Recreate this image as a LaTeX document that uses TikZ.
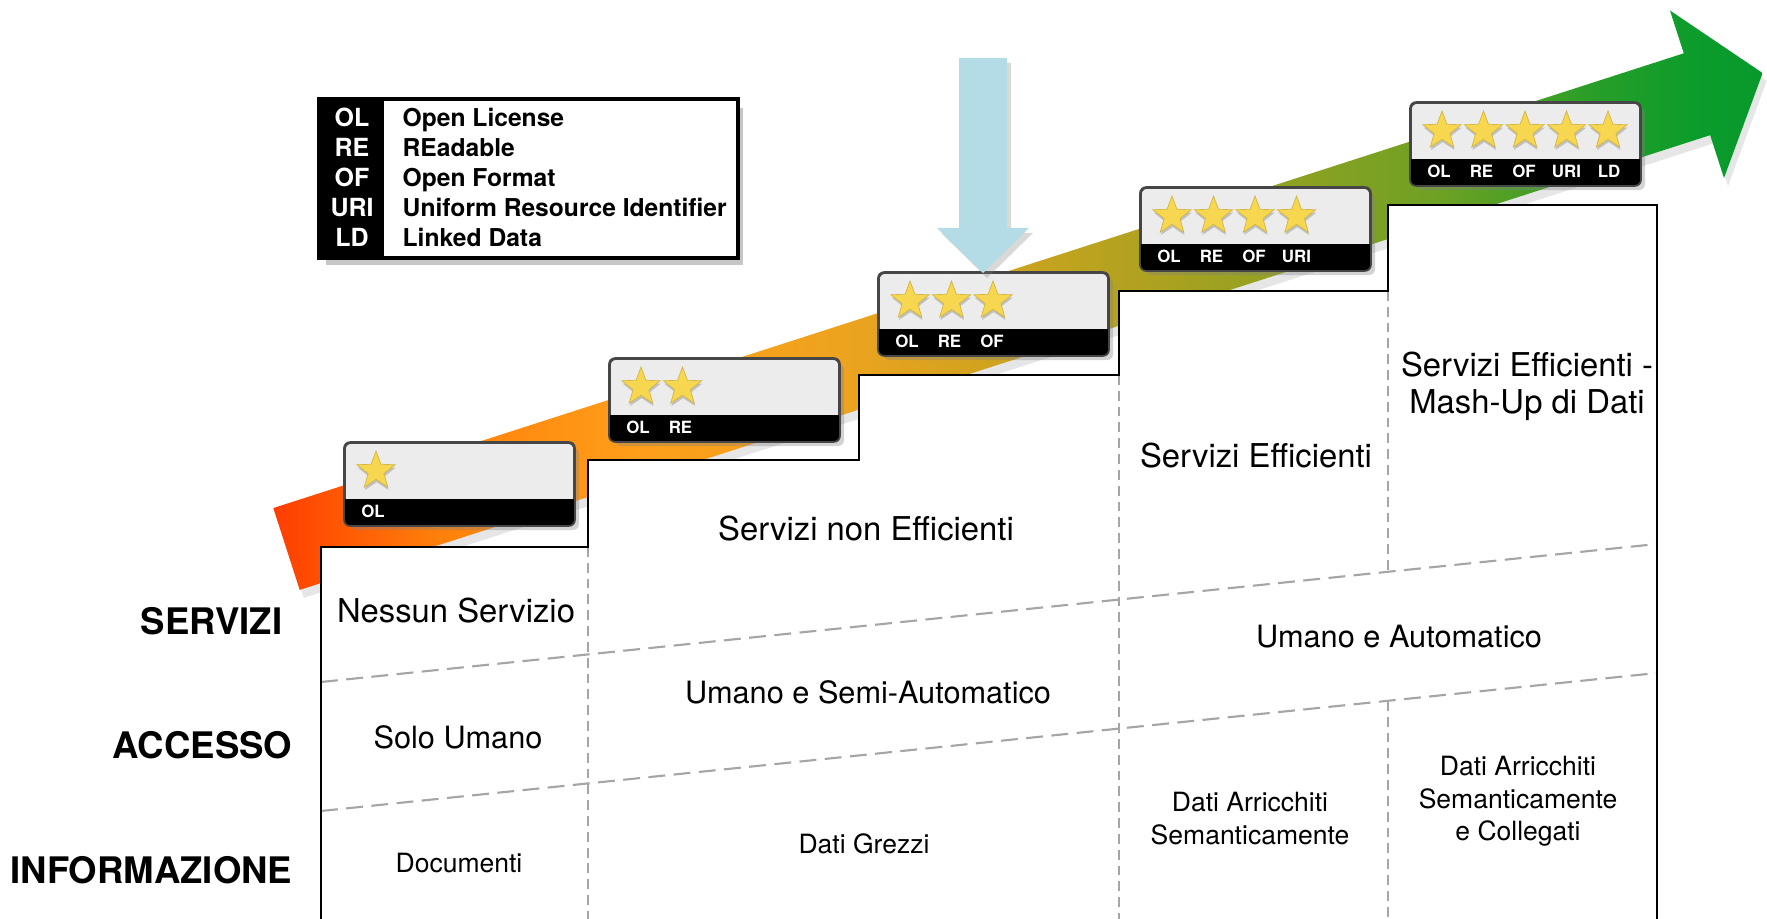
\documentclass[tikz,border=0pt]{standalone}
\usepackage{fontspec}
\setmainfont{TeX Gyre Heros}
\usetikzlibrary{shapes.geometric,shadows,calc}
\definecolor{badgegray}{RGB}{236,236,236}
\definecolor{badgeedge}{RGB}{70,70,70}
\definecolor{starfill}{RGB}{247,215,80}
\definecolor{bluearrow}{RGB}{180,220,230}
\definecolor{dashgray}{RGB}{165,165,165}
\pgfdeclarehorizontalshading{arrowshade}{100bp}{%
  rgb(0bp)=(1,0.24,0);
  rgb(25bp)=(1,0.24,0);
  rgb(30.5bp)=(1,0.50,0.04);
  rgb(37.3bp)=(1,0.62,0.10);
  rgb(44.1bp)=(0.93,0.64,0.12);
  rgb(50.9bp)=(0.77,0.64,0.12);
  rgb(57.6bp)=(0.60,0.63,0.13);
  rgb(64.4bp)=(0.42,0.63,0.14);
  rgb(69.5bp)=(0.15,0.62,0.16);
  rgb(72.9bp)=(0.04,0.61,0.17);
  rgb(75bp)=(0.03,0.60,0.17);
  rgb(100bp)=(0.03,0.60,0.17)}
\newcommand\starbadge[5]{%
  \node[badgebox] (#1) at ({#2+114.5},{#3+41}) {};
  \begin{scope}
    \clip[rounded corners=0.06cm] (#1.south west) rectangle (#1.north east);
    \fill[black] (#1.south west) rectangle ($(#1.south east)+(0,-27)$);
  \end{scope}
  \draw[badgeedge, line width=0.5pt, rounded corners=0.06cm] (#1.south west) rectangle (#1.north east);
  \foreach \k in {1,...,#4} \node[starshape] (#1s\k) at ({#2+31+41.5*(\k-1)},{#3+28}) {};
  \foreach \lab [count=\k] in {#5} \node[badgelabel] (#1l\k) at ({#2+28+42.5*(\k-1)},{#3+74.5}) {\lab};
}
\begin{document}
\begin{tikzpicture}[x=0.01cm,y=-0.01cm,
  badgebox/.style={rectangle, minimum width=2.29cm, minimum height=0.82cm, inner sep=0pt,
    rounded corners=0.06cm, fill=badgegray, draw=badgeedge, line width=0.5pt,
    drop shadow={opacity=0.35, shadow xshift=0.05cm, shadow yshift=-0.05cm}},
  starshape/.style={star, star points=5, star point ratio=2.4, minimum size=0.4cm, inner sep=0pt,
    fill=starfill, draw=starfill!85!black, line width=0.2pt,
    drop shadow={opacity=0.4, shadow xshift=0.2pt, shadow yshift=-0.8pt}},
  badgelabel/.style={text=white, font=\fontsize{4.8}{5.5}\selectfont\bfseries, inner sep=0pt, anchor=base},
  legendbox/.style={rectangle, minimum width=4.17cm, minimum height=1.57cm, inner sep=0pt,
    fill=white, draw=black, line width=0.8pt,
    drop shadow={opacity=0.45, shadow xshift=0.06cm, shadow yshift=-0.08cm}},
  legab/.style={text=white, font=\fontsize{7.1}{8}\selectfont\bfseries, inner sep=0pt, anchor=base},
  legtxt/.style={text=black, font=\fontsize{7.0}{8}\selectfont\bfseries, inner sep=0pt, anchor=base west},
  rowtitle/.style={font=\fontsize{10.4}{12}\selectfont\bfseries, inner sep=0pt, anchor=base east},
  bigtxt/.style={font=\fontsize{9.33}{11}\selectfont, inner sep=0pt, anchor=base},
  midtxt/.style={font=\fontsize{8.73}{10}\selectfont, inner sep=0pt, anchor=base},
  smalltxt/.style={font=\fontsize{7.54}{9}\selectfont, inner sep=0pt, anchor=base},
  slantdash/.style={dashgray, line width=0.6pt, dash pattern=on 4.8pt off 2.4pt},
  vdash/.style={dashgray, line width=0.4pt, dash pattern=on 2.8pt off 1.7pt},
  stair/.style={black, line width=0.7pt}
]
\useasboundingbox (0,0) rectangle (1767,919);

% ---- main gradient arrow
\begin{scope}[shift={(286.5,549)}, rotate=17.87]
  \shade[shading=arrowshade, drop shadow={opacity=0.2, shadow xshift=0.04cm, shadow yshift=-0.08cm}]
    (0,-43) -- (1482,-43) -- (1482,-88) -- (1551,0) -- (1482,88) -- (1482,43) -- (0,43) -- cycle;
\end{scope}

% ---- staircase box
\coordinate (s0) at (321,919);
\coordinate (s1) at (321,547);
\coordinate (s2) at (588,547);
\coordinate (s3) at (588,460);
\coordinate (s4) at (859,460);
\coordinate (s5) at (859,375);
\coordinate (s6) at (1119,375);
\coordinate (s7) at (1119,291);
\coordinate (s8) at (1388,291);
\coordinate (s9) at (1388,205);
\coordinate (s10) at (1657,205);
\coordinate (s11) at (1657,919);
\fill[white] (s0) -- (s1) -- (s2) -- (s3) -- (s4) -- (s5) -- (s6) -- (s7) -- (s8) -- (s9) -- (s10) -- (s11) -- cycle;

% dashed division lines
\coordinate (a1) at (321,682);
\coordinate (a2) at (1657,544);
\coordinate (b1) at (321,811);
\coordinate (b2) at (1657,673);
\draw[slantdash] (a1) -- (a2);
\draw[slantdash] (b1) -- (b2);
\coordinate (v1b) at (588,919);
\coordinate (v2b) at (1119,919);
\coordinate (v3m) at (1388,572);
\coordinate (v3n) at (1388,701);
\coordinate (v3b) at (1388,919);
\draw[vdash] (s2) -- (v1b);
\draw[vdash] (s6) -- (v2b);
\draw[vdash] (s8) -- (v3m);
\draw[vdash] (v3n) -- (v3b);

\draw[stair] (s0) -- (s1) -- (s2) -- (s3) -- (s4) -- (s5) -- (s6) -- (s7) -- (s8) -- (s9) -- (s10) -- (s11);

% ---- star badges
\starbadge{bA}{345}{443}{1}{OL}
\starbadge{bB}{610}{359}{2}{OL,RE}
\starbadge{bC}{879}{273}{3}{OL,RE,OF}
\starbadge{bD}{1141}{188}{4}{OL,RE,OF,URI}
\starbadge{bE}{1411}{103}{5}{OL,RE,OF,URI,LD}

% ---- blue arrow
\fill[bluearrow, drop shadow={opacity=0.3, shadow xshift=0.04cm, shadow yshift=-0.05cm}]
  (959,58) -- (1007,58) -- (1007,228) -- (1029,228) -- (983,273) -- (937,228) -- (959,228) -- cycle;

% ---- legend
\node[legendbox] (leg) at (528.5,178.5) {};
\fill[black] (leg.south west) rectangle ($(leg.north west)+(66,0)$);
\draw[black, line width=0.8pt] (leg.south west) rectangle (leg.north east);
\foreach \ab/\txt [count=\i] in {OL/Open License, RE/REadable, OF/Open Format, URI/Uniform Resource Identifier, LD/Linked Data}{
  \node[legab] (la\i) at (352,{126.5+30*(\i-1)}) {\ab};
  \node[legtxt] (lt\i) at (402,{126.5+30*(\i-1)}) {\txt};
}

% ---- row titles
\node[rowtitle] (tServ) at (283,635) {SERVIZI};
\node[rowtitle] (tAcc) at (293,758) {ACCESSO};
\node[rowtitle] (tInf) at (293,883) {INFORMAZIONE};

% ---- cell texts
\node[bigtxt] (c1) at (456,623) {Nessun Servizio};
\node[bigtxt] (c2) at (866,541) {Servizi non Efficienti};
\node[bigtxt] (c3) at (1256,468) {Servizi Efficienti};
\node[bigtxt] (c4a) at (1527,377) {Servizi Efficienti -};
\node[bigtxt] (c4b) at (1527,414) {Mash-Up di Dati};
\node[midtxt] (d34) at (1399,647) {Umano e Automatico};
\node[midtxt] (d2) at (868,703) {Umano e Semi-Automatico};
\node[midtxt] (d1) at (458,748) {Solo Umano};
\node[smalltxt] (e1) at (459,872) {Documenti};
\node[smalltxt] (e2) at (864,853.5) {Dati Grezzi};
\node[smalltxt] (e3a) at (1250,811.5) {Dati Arricchiti};
\node[smalltxt] (e3b) at (1250,844.5) {Semanticamente};
\node[smalltxt] (e4a) at (1518,775.5) {Dati Arricchiti};
\node[smalltxt] (e4b) at (1518,808.5) {Semanticamente};
\node[smalltxt] (e4c) at (1518,840.5) {e Collegati};
\end{tikzpicture}
\end{document}
